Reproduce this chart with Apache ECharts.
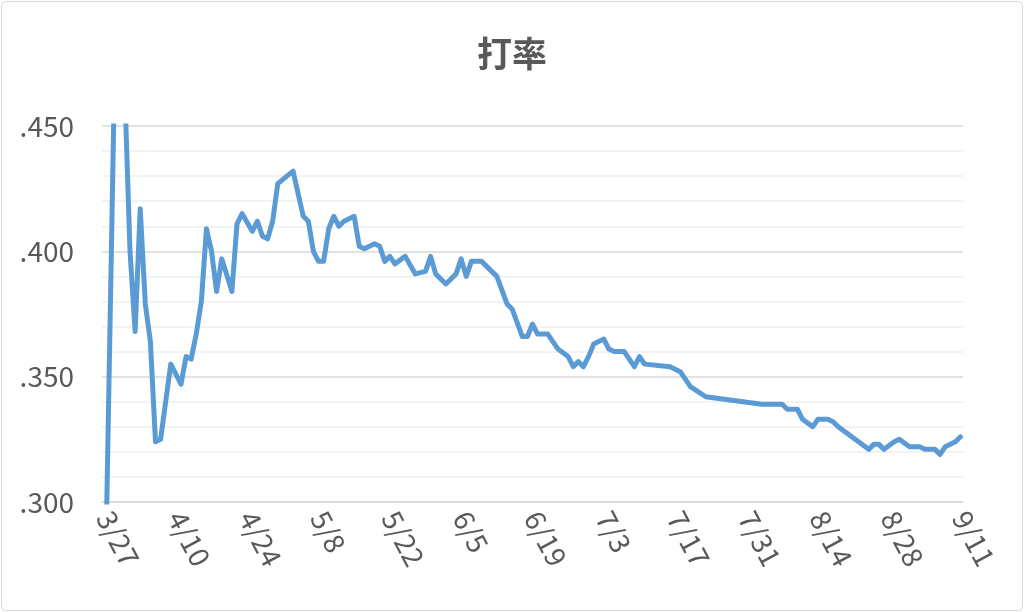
<!DOCTYPE html>
<html>
<head>
<meta charset="utf-8">
<script src="https://cdn.jsdelivr.net/npm/echarts@6/dist/echarts.min.js"></script>
<style>
  html, body { margin: 0; padding: 0; background: #fff; }
  #chart { width: 1024px; height: 612px; }
</style>
</head>
<body>
<div id="chart"></div>
<script>
// 試合日と打率
var gameDates = [
  '3/27', '3/29', '3/30', '3/31', '4/1', '4/2', '4/3', '4/4', '4/5', '4/6', '4/7', '4/9',
  '4/11', '4/12', '4/13', '4/14', '4/15', '4/16', '4/17', '4/18', '4/19', '4/21', '4/22', '4/23',
  '4/25', '4/26', '4/27', '4/28', '4/29', '4/30', '5/3', '5/5', '5/6', '5/7', '5/8', '5/9',
  '5/10', '5/11', '5/12', '5/13', '5/15', '5/16', '5/17', '5/19', '5/20', '5/21', '5/22', '5/23',
  '5/25', '5/27', '5/29', '5/30', '5/31', '6/2', '6/4', '6/5', '6/6', '6/7', '6/9', '6/12',
  '6/14', '6/15', '6/17', '6/18', '6/19', '6/20', '6/22', '6/24', '6/26', '6/27', '6/28', '6/29',
  '6/30', '7/1', '7/3', '7/4', '7/5', '7/7', '7/9', '7/10', '7/11', '7/16', '7/18', '7/20',
  '7/23', '8/3', '8/7', '8/8', '8/10', '8/11', '8/13', '8/14', '8/16', '8/17', '8/18', '8/20',
  '8/22', '8/24', '8/25', '8/26', '8/27', '8/29', '8/30', '9/1', '9/3', '9/4', '9/6', '9/7',
  '9/8', '9/10', '9/11'
];
var avgValues = [
  0.250, 0.474, 0.520, 0.462, 0.400, 0.368, 0.417, 0.379, 0.364, 0.324, 0.325, 0.355,
  0.347, 0.358, 0.357, 0.367, 0.380, 0.409, 0.400, 0.384, 0.397, 0.384, 0.411, 0.415,
  0.408, 0.412, 0.406, 0.405, 0.412, 0.427, 0.432, 0.414, 0.412, 0.400, 0.396, 0.396,
  0.409, 0.414, 0.410, 0.412, 0.414, 0.402, 0.401, 0.403, 0.402, 0.396, 0.398, 0.395,
  0.398, 0.391, 0.392, 0.398, 0.391, 0.387, 0.391, 0.397, 0.390, 0.396, 0.396, 0.390,
  0.379, 0.377, 0.366, 0.366, 0.371, 0.367, 0.367, 0.361, 0.358, 0.354, 0.356, 0.354,
  0.358, 0.363, 0.365, 0.361, 0.360, 0.360, 0.354, 0.358, 0.355, 0.354, 0.352, 0.346,
  0.342, 0.339, 0.339, 0.337, 0.337, 0.333, 0.330, 0.333, 0.333, 0.332, 0.330, 0.327,
  0.324, 0.321, 0.323, 0.323, 0.321, 0.324, 0.325, 0.322, 0.322, 0.321, 0.321, 0.319,
  0.322, 0.324, 0.326
];
var firstDay = '2015-03-27';
var lastDay = '2015-09-11';
var labelEvery = 14;

// 日付軸（1日1カテゴリ）を作る
var dayLabels = [];
var d = new Date(firstDay + 'T00:00:00');
var end = new Date(lastDay + 'T00:00:00');
while (d <= end) {
  dayLabels.push((d.getMonth() + 1) + '/' + d.getDate());
  d.setDate(d.getDate() + 1);
}

// 試合のない日は null にして線をつなぐ
var seriesData = dayLabels.map(function (label) {
  var i = gameDates.indexOf(label);
  return i >= 0 ? avgValues[i] : null;
});

var chart = echarts.init(document.getElementById('chart'));
var font = '"Noto Sans CJK JP", "Noto Sans", sans-serif';

var option = {
  animation: false,
  backgroundColor: '#fff',
  title: {
    text: '打率',
    left: 'center',
    top: 31,
    textStyle: { fontSize: 35, fontWeight: 'bold', color: '#595959', fontFamily: font }
  },
  graphic: [{
    type: 'rect',
    shape: { x: 1.5, y: 1.5, width: 1021, height: 609, r: 4 },
    style: { fill: 'none', stroke: '#d9d9d9', lineWidth: 1 }
  }],
  grid: { left: 102, right: 61, top: 126, bottom: 110 },
  xAxis: {
    type: 'category',
    data: dayLabels,
    boundaryGap: true,
    axisLine: { show: true, lineStyle: { color: '#d9d9d9', width: 1.5 } },
    axisTick: { show: false },
    axisLabel: {
      interval: function (index) { return index % labelEvery === 0; },
      rotate: -62,
      margin: 11,
      fontSize: 28,
      color: '#595959',
      fontFamily: font
    },
    splitLine: { show: false }
  },
  yAxis: {
    type: 'value',
    min: 0.30,
    max: 0.45,
    interval: 0.05,
    axisLine: { show: false },
    axisTick: { show: false },
    axisLabel: {
      margin: 28,
      fontSize: 28,
      color: '#595959',
      fontFamily: font,
      formatter: function (v) { return v.toFixed(3).replace(/^0/, ''); }
    },
    splitLine: { lineStyle: { color: '#d9d9d9', width: 1.5 } },
    minorTick: { show: false, splitNumber: 5 },
    minorSplitLine: { show: true, lineStyle: { color: '#efefef', width: 1.5 } }
  },
  series: [{
    type: 'line',
    data: seriesData,
    connectNulls: true,
    showSymbol: false,
    clip: true,
    lineStyle: { color: '#5b9bd5', width: 5, cap: 'round', join: 'round' }
  }]
};

chart.setOption(option);
</script>
</body>
</html>
